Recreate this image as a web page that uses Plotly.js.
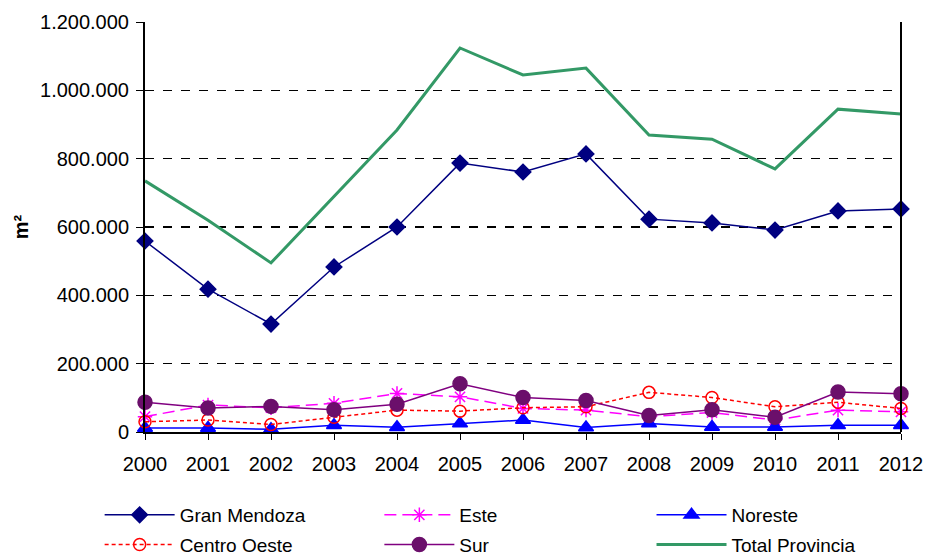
<!DOCTYPE html>
<html>
<head>
<meta charset="utf-8">
<script src="https://cdn.plot.ly/plotly-3.0.1.min.js"></script>
<style>
  body { margin: 0; padding: 0; background: #fff; }
  #chart { width: 928px; height: 556px; }
</style>
</head>
<body>
<div id="chart"></div>
<script>
// years on the x axis
var years = [2000, 2001, 2002, 2003, 2004, 2005, 2006, 2007, 2008, 2009, 2010, 2011, 2012];

// surface (m2) per zone
var granMendoza   = [559000, 418000, 316000, 483000, 600000, 787000, 761000, 814000, 623000, 612000, 591000, 647000, 653000];
var este          = [45000, 79000, 71000, 84000, 113000, 103000, 69000, 64000, 45000, 57000, 35000, 64000, 59000];
var noreste       = [12000, 12000, 8000, 20000, 14000, 25000, 35000, 13000, 25000, 15000, 15000, 20000, 20000];
var centroOeste   = [30000, 35000, 22000, 43000, 64000, 61000, 71000, 74000, 116000, 101000, 74000, 87000, 69000];
var sur           = [87000, 70000, 75000, 65000, 81000, 141000, 101000, 92000, 48000, 65000, 43000, 117000, 112000];
var totalProvincia = [735000, 620000, 495000, 688000, 884000, 1124000, 1045000, 1065000, 869000, 857000, 770000, 945000, 931000];

var yTicks = [0, 200000, 400000, 600000, 800000, 1000000, 1200000];

var fontFam = 'Liberation Sans, Arial, sans-serif';

function serie(name, y, color, dash, width, symbol, size, legend, mcolor) {
	var t = {
		x: years,
		y: y,
		name: name,
		type: 'scatter',
		mode: symbol ? 'lines+markers' : 'lines',
		cliponaxis: false,
		legend: legend,
		legendgroup: name,
		line: {color: color, width: width, dash: dash}
	};
	if (symbol) {
		t.marker = {symbol: symbol, size: size, color: mcolor || color, line: {color: mcolor || color, width: 1.5}};
	}
	return t;
}

var data = [
	serie('Gran Mendoza', granMendoza, '#000080', 'solid', 1.5, 'diamond', 12, 'legend'),
	serie('Este', este, '#FF00FF', '12px,6px', 1.5, 'asterisk-open', 12, 'legend2'),
	serie('Noreste', noreste, '#0000FF', 'solid', 1.5, 'triangle-up', 13, 'legend3'),
	serie('Centro Oeste', centroOeste, '#FF0000', '4px,3px', 1.5, 'circle-open', 12, 'legend'),
	serie('Sur', sur, '#800080', 'solid', 1.5, 'circle', 14, 'legend2', '#6B0F6B'),
	serie('Total Provincia', totalProvincia, '#339966', 'solid', 3, null, 0, 'legend3')
];

function legendAt(x) {
	return {
		x: x, y: -0.156, xanchor: 'left', yanchor: 'top',
		orientation: 'v',
		tracegroupgap: 2,
		itemwidth: 70,
		bgcolor: 'rgba(0,0,0,0)',
		font: {family: fontFam, size: 19, color: '#000'}
	};
}

var layout = {
	width: 928,
	height: 556,
	margin: {l: 145, r: 27, t: 22, b: 124, autoexpand: false},
	paper_bgcolor: '#fff',
	plot_bgcolor: '#fff',
	separators: ',.',
	font: {family: fontFam, size: 20, color: '#000'},
	showlegend: true,
	legend: legendAt(-0.06),
	legend2: legendAt(0.31),
	legend3: legendAt(0.67),
	xaxis: {
		range: [2000, 2012],
		tickmode: 'array',
		tickvals: years,
		ticktext: years.map(String),
		ticks: 'outside',
		ticklen: 6,
		tickcolor: '#000',
		showgrid: false,
		zeroline: false,
		showline: true,
		linecolor: '#000',
		linewidth: 2,
		ticklabelstandoff: 7,
		tickfont: {family: fontFam, size: 20, color: '#000'}
	},
	yaxis: {
		range: [0, 1200000],
		tickmode: 'array',
		tickvals: yTicks,
		tickformat: ',d',
		ticks: 'outside',
		ticklen: 7,
		tickcolor: '#000',
		showgrid: true,
		gridcolor: '#000',
		griddash: 'dash',
		gridwidth: 1.5,
		zeroline: false,
		showline: true,
		linecolor: '#000',
		linewidth: 2,
		ticklabelstandoff: 3,
		tickfont: {family: fontFam, size: 20, color: '#000'},
		title: {text: '<b>m²</b>', standoff: 6, font: {family: fontFam, size: 20, color: '#000'}}
	},
	shapes: [
		{type: 'line', xref: 'paper', yref: 'paper', x0: 1, x1: 1, y0: 0, y1: 1, line: {color: '#000', width: 2}}
	]
};

Plotly.newPlot('chart', data, layout, {displayModeBar: false, staticPlot: true});
</script>
</body>
</html>
